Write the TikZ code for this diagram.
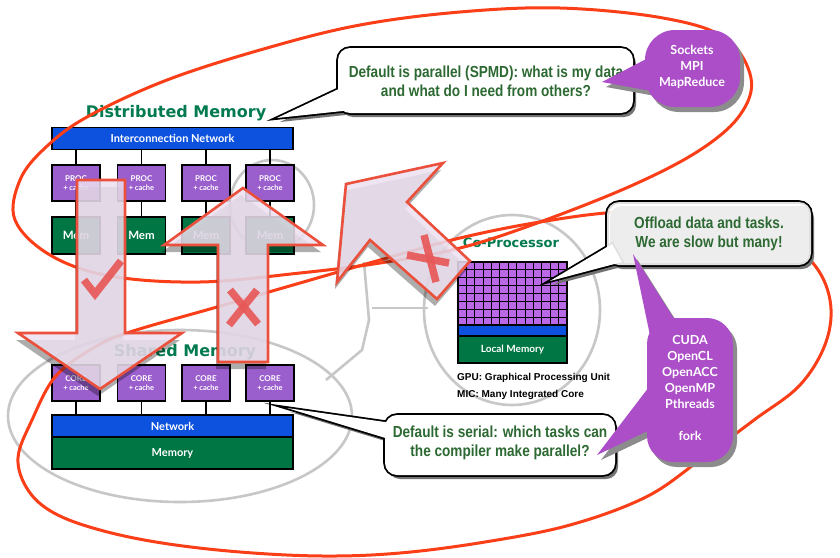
\documentclass[tikz,border=0pt]{standalone}
\usepackage{fontspec}
\setmainfont{Liberation Sans}
\newfontfamily\gillfont{Lato}
\newfontfamily\callfont[FakeStretch=0.85]{Liberation Sans}
\newfontfamily\titlefont{DejaVu Sans}
\usetikzlibrary{calc}
\definecolor{netblue}{RGB}{12,82,222}
\definecolor{procpurple}{RGB}{155,95,205}
\definecolor{memgreen}{RGB}{0,118,68}
\definecolor{titlegreen}{RGB}{0,122,78}
\definecolor{callgreen}{RGB}{45,105,50}
\definecolor{redline}{RGB}{250,62,24}
\definecolor{arrowred}{RGB}{234,80,60}
\definecolor{arrowfill}{RGB}{237,224,240}
\definecolor{markred}{RGB}{232,88,88}
\definecolor{bubblepurple}{RGB}{172,78,200}
\definecolor{cellpurple}{RGB}{185,105,230}
\begin{document}
\begin{tikzpicture}[x=1pt,y=-1pt,
 procbox/.style={draw=black, line width=1.2pt, fill=procpurple, minimum width=48pt, minimum height=36pt, inner sep=0pt, text=white, align=center, font=\gillfont\bfseries\fontsize{8}{10}\selectfont},
 membox/.style={draw=black, line width=1.2pt, fill=memgreen, minimum width=48pt, minimum height=37pt, inner sep=0pt, text=white, font=\gillfont\bfseries\fontsize{11.5}{12}\selectfont},
 barbox/.style={draw=black, line width=1.2pt, minimum width=241pt, inner sep=0pt, text=white, font=\gillfont\bfseries\fontsize{11}{12}\selectfont},
 wire/.style={black, line width=1.6pt},
 titletext/.style={text=titlegreen, font=\titlefont\bfseries\fontsize{16}{16}\selectfont, inner sep=0pt},
 graycirc/.style={draw=black!22, line width=2.6pt},
 redloop/.style={draw=redline, line width=3pt},
 arrowbody/.style={fill=arrowfill, fill opacity=0.86, draw=arrowred, line width=2.6pt, line join=miter, miter limit=10},
 arrowshadow/.style={fill=black, opacity=0.32},
 xmark/.style={draw=markred, line width=7.5pt, opacity=0.92},
 callstroke/.style={draw=black, line width=3.6pt, line join=miter, miter limit=20},
 callshadow/.style={fill=black!55},
 calltext/.style={text=callgreen, align=center, inner sep=0pt, font=\callfont\bfseries\fontsize{16}{19}\selectfont},
 bubblefill/.style={fill=bubblepurple},
 bubbleshadow/.style={fill=black!45},
 bubbletext/.style={text=white, align=center, inner sep=0pt, font=\gillfont\bfseries\fontsize{12.5}{16}\selectfont},
 infotext/.style={anchor=west, inner sep=0pt, font=\bfseries\fontsize{10}{12}\selectfont},
]
\useasboundingbox (0,0) rectangle (840,557);
\fill[white] (0,0) rectangle (840,557);

% gray outlines
\draw[graycirc] (180,416) ellipse [x radius=172, y radius=86];
\draw[graycirc] (272,205) ellipse [x radius=42, y radius=45];
\draw[graycirc] (512,310) ellipse [x radius=88, y radius=95];
\draw[graycirc, line join=round] (364,262) -- (369,320) -- (362,350) -- (326,380);
\draw[graycirc] (372,308) -- (428,308);

% distributed memory
\node[titletext] (dmtitle) at (176,113) {Distributed Memory};
\node[barbox, fill=netblue, minimum height=22pt] (icn) at (172.5,138.5) {Interconnection Network};
\foreach \i/\x in {1/76,2/141.5,3/206,4/270} {
  \node[procbox] (p\i) at (\x,183) {PROC\\[-1pt]{\fontsize{7.5}{9}\selectfont + cache}};
  \node[membox] (m\i) at (\x,235.5) {Mem};
  \draw[wire] (icn.south -| p\i.north) -- (p\i.north);
  \draw[wire] (p\i.south) -- (m\i.north);
}

% shared memory
\node[titletext] (smtitle) at (185,352) {Shared Memory};
\node[barbox, fill=netblue, minimum height=22pt] (net) at (172.5,426) {Network};
\node[barbox, fill=memgreen, minimum height=32pt] (mem) at (172.5,453) {Memory};
\foreach \i/\x in {1/76,2/141.5,3/206,4/270} {
  \node[procbox] (c\i) at (\x,383) {CORE\\[-1pt]{\fontsize{7.5}{9}\selectfont + cache}};
  \draw[wire] (c\i.south) -- (c\i.south |- net.north);
}

% co-processor
\node[titletext, font=\titlefont\bfseries\fontsize{13}{13}\selectfont] (cptitle) at (511,243) {Co-Processor};
\fill[cellpurple] (458,262) rectangle (567,325);
\foreach \k in {0,...,13} \draw[black, line width=1.1pt] ({458+\k*109/13},262) -- ({458+\k*109/13},325);
\foreach \k in {0,...,8} \draw[black, line width=1.1pt] (458,{262+\k*63/8}) -- (567,{262+\k*63/8});
\node[draw=black, line width=1.2pt, minimum width=109pt, minimum height=63pt, inner sep=0pt] (gpugrid) at (512.5,293.5) {};
\node[barbox, fill=netblue, minimum width=109pt, minimum height=11pt] (cpbus) at (512.5,330.5) {};
\node[barbox, fill=memgreen, minimum width=109pt, minimum height=27pt, font=\gillfont\bfseries\fontsize{10}{12}\selectfont] (lmem) at (512.5,349.5) {Local Memory};
\node[infotext] (gpu) at (457,378) {GPU: Graphical Processing Unit};
\node[infotext] (mic) at (457,395) {MIC: Many Integrated Core};

% red loops
\draw[redloop] plot[smooth cycle, tension=0.6] coordinates {(87,117) (167,80) (267,48) (360,25) (460,12) (560,8) (663,18) (725,38) (751,78) (740,115) (700,150) (633,185) (540,222) (460,248) (380,263) (300,273) (200,282) (110,276) (50,255) (15,220) (20,180) (45,148)};
\draw[redloop] plot[smooth cycle, tension=0.6] coordinates {(32,420) (55,377) (90,350) (127,333) (217,307) (300,283) (380,260) (460,238) (540,222) (620,212) (700,214) (770,232) (812,262) (830,300) (826,342) (800,385) (754,420) (700,460) (646,497) (570,525) (485,542) (400,553) (323,556) (240,552) (162,543) (100,530) (54,513) (28,490) (18,458)};

% big arrows
\def\arrowApath{(77,180) -- (125,180) -- (125,333) -- (182,333) -- (100,389) -- (18,333) -- (77,333) -- cycle}
\def\arrowBpath{(243,188) -- (323,245) -- (268,245) -- (268,362) -- (218,362) -- (218,245) -- (164,245) -- cycle}
\def\arrowCpath{(346,184) -- (443,163) -- (407,202) -- (470,261) -- (437,299) -- (370,240) -- (337,282) -- cycle}
\fill[arrowshadow, shift={(-2,7)}] \arrowApath;
\filldraw[arrowbody] \arrowApath;
\fill[arrowshadow, shift={(-2,7)}] \arrowBpath;
\filldraw[arrowbody] \arrowBpath;
\fill[arrowshadow, shift={(-2,7)}] \arrowCpath;
\filldraw[arrowbody] \arrowCpath;
\draw[xmark] (84,280) -- (95,294) -- (121,261);
\draw[xmark] (230,290) -- (258,324);
\draw[xmark] (257,290) -- (229,325);
\draw[xmark] (424,235) -- (436,282);
\draw[xmark] (407,255) -- (449,263);

% callout 1
\fill[callshadow, shift={(3,4)}, rounded corners=12pt] (338,48) rectangle (633,113);
\fill[callshadow, shift={(3,4)}] (345,86) -- (277,118) -- (352,110) -- cycle;
\draw[callstroke, rounded corners=12pt] (338,48) rectangle (633,113);
\draw[callstroke] (345,86) -- (277,118) -- (352,110) -- cycle;
\fill[white, rounded corners=12pt] (338,48) rectangle (633,113);
\fill[white] (345,86) -- (277,118) -- (352,110) -- cycle;
\node[calltext] (spmd) at (486,81) {Default is parallel (SPMD): what is my data\\and what do I need from others?};

% callout 2
\fill[callshadow, shift={(3,4)}, rounded corners=12pt] (607,202) rectangle (811,265);
\fill[callshadow, shift={(3,4)}] (612,244) -- (550,281) -- (622,262) -- cycle;
\draw[callstroke, rounded corners=12pt] (607,202) rectangle (811,265);
\draw[callstroke] (612,244) -- (550,281) -- (622,262) -- cycle;
\fill[white, opacity=0.88, rounded corners=12pt] (607,202) rectangle (811,265);
\fill[white] (612,244) -- (550,281) -- (622,262) -- cycle;
\node[calltext] (offload) at (709,234) {Offload data and tasks.\\We are slow but many!};

% callout 3
\fill[callshadow, shift={(3,4)}, rounded corners=12pt] (385,415) rectangle (615,475);
\fill[callshadow, shift={(3,4)}] (392,423) -- (287,408) -- (392,440) -- cycle;
\draw[callstroke, rounded corners=12pt] (385,415) rectangle (615,475);
\draw[callstroke] (392,423) -- (287,408) -- (392,440) -- cycle;
\fill[white, rounded corners=12pt] (385,415) rectangle (615,475);
\fill[white] (392,423) -- (287,408) -- (392,440) -- cycle;
\node[calltext] (serial) at (500,443) {Default is serial: which tasks can\\the compiler make parallel?};

% purple bubble 1
\fill[bubbleshadow, shift={(4,5)}, rounded corners=30pt] (645,30) rectangle (740,107);
\fill[bubbleshadow, shift={(4,5)}] (652,56) -- (602,82) -- (657,92) -- cycle;
\fill[bubblefill, rounded corners=30pt] (645,30) rectangle (740,107);
\fill[bubblefill] (652,56) -- (602,82) -- (657,92) -- cycle;
\node[bubbletext] (msg) at (692,67) {Sockets\\MPI\\MapReduce};

% purple bubble 2
\fill[bubbleshadow, shift={(4,5)}, rounded corners=26pt] (647,318) rectangle (733,462);
\fill[bubbleshadow, shift={(4,5)}] (652,345) -- (633,254) -- (678,325) -- cycle;
\fill[bubbleshadow, shift={(4,5)}] (652,383) -- (597,455) -- (654,428) -- cycle;
\fill[bubblefill, rounded corners=26pt] (647,318) rectangle (733,462);
\fill[bubblefill] (652,345) -- (633,254) -- (678,325) -- cycle;
\fill[bubblefill] (652,383) -- (597,455) -- (654,428) -- cycle;
\node[bubbletext] (shm) at (690,388) {CUDA\\OpenCL\\OpenACC\\OpenMP\\Pthreads\\\mbox{}\\fork};
\end{tikzpicture}
\end{document}
